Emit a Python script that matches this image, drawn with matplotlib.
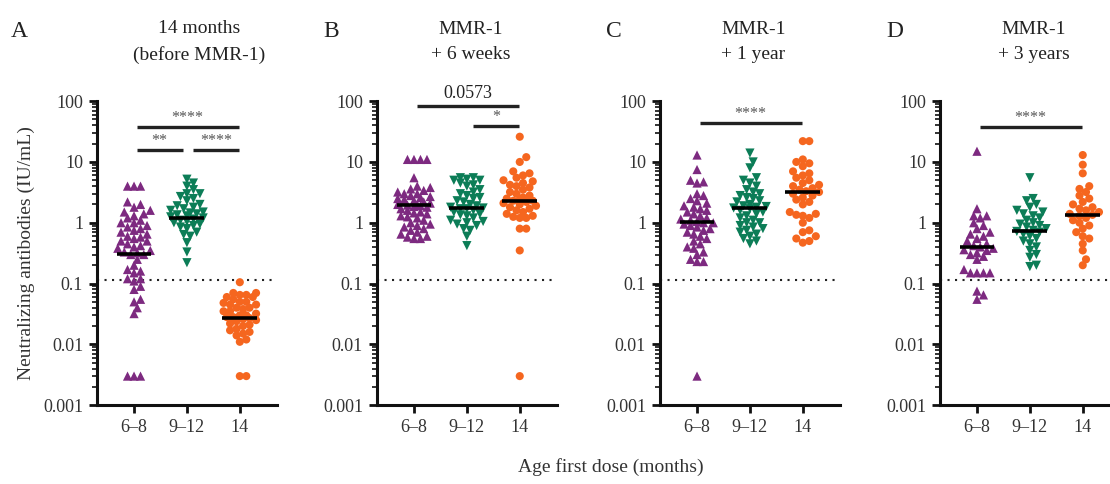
import numpy as np
import matplotlib
matplotlib.use("Agg")
import matplotlib.pyplot as plt
from matplotlib.ticker import LogLocator, NullFormatter

plt.rcParams['font.family'] = ['Liberation Serif', 'DejaVu Serif']
plt.rcParams['text.color'] = '#222222'

# groups / colours / markers
groups = ['6–8', '9–12', '14']
colors = ['#7d2a80', '#0c7d57', '#f5661f']
markers = ['^', 'v', 'o']

panel_letters = ['A', 'B', 'C', 'D']
panel_titles = ['14 months\n(before MMR-1)', 'MMR-1\n+ 6 weeks', 'MMR-1\n+ 1 year', 'MMR-1\n+ 3 years']

# neutralizing antibody titres (IU/mL)
A_6_8 = [4, 4, 4, 2.2, 2.0, 1.8, 1.6, 1.5, 1.4, 1.3, 1.2, 1.1, 1.0, 1.0, 0.9, 0.85, 0.8, 0.75,
         0.7, 0.65, 0.6, 0.58, 0.55, 0.5, 0.5, 0.45, 0.42, 0.4, 0.38, 0.35, 0.33, 0.32, 0.3, 0.3,
         0.25, 0.2, 0.17, 0.16, 0.15, 0.12, 0.12, 0.11, 0.09, 0.08, 0.055, 0.05, 0.04, 0.032,
         0.003, 0.003, 0.003]
A_9_12 = [5.2, 4.5, 4, 3.5, 3.0, 3.0, 2.7, 2.5, 2.3, 2.0, 1.9, 1.8, 1.7, 1.6, 1.5, 1.45, 1.4,
          1.35, 1.3, 1.25, 1.2, 1.15, 1.1, 1.05, 1.0, 0.95, 0.9, 0.85, 0.8, 0.7, 0.64, 0.6,
          0.47, 0.33, 0.22]
A_14 = [0.105, 0.07, 0.07, 0.065, 0.065, 0.06, 0.06, 0.055, 0.05, 0.05, 0.048, 0.045, 0.045,
        0.04, 0.04, 0.038, 0.035, 0.035, 0.032, 0.03, 0.03, 0.028, 0.028, 0.027, 0.026, 0.025,
        0.024, 0.022, 0.021, 0.02, 0.018, 0.017, 0.016, 0.015, 0.014, 0.012, 0.011, 0.003, 0.003]

B_6_8 = [11, 11, 11, 11, 5.5, 4, 3.8, 3.6, 3.4, 3.2, 3.0, 3.0, 2.8, 2.7, 2.6, 2.5, 2.4, 2.3,
         2.2, 2.1, 2.0, 2.0, 1.95, 1.9, 1.85, 1.8, 1.7, 1.6, 1.5, 1.45, 1.4, 1.3, 1.25, 1.2,
         1.1, 1.0, 0.95, 0.9, 0.85, 0.8, 0.75, 0.7, 0.65, 0.6, 0.58, 0.55, 0.55]
B_9_12 = [5.5, 5.5, 5.2, 5, 5, 4.5, 4.2, 4, 3.5, 3.2, 3, 2.8, 2.6, 2.5, 2.3, 2.2, 2.0, 1.9,
          1.8, 1.75, 1.7, 1.7, 1.6, 1.5, 1.4, 1.35, 1.3, 1.2, 1.1, 1.05, 1.0, 0.95, 0.9, 0.8,
          0.75, 0.6, 0.42]
B_14 = [26, 12, 10, 7, 6.5, 6, 5.5, 5, 4.8, 4.5, 4.2, 4, 3.8, 3.5, 3.2, 3, 2.8, 2.6, 2.5,
        2.4, 2.3, 2.3, 2.2, 2.1, 2.0, 1.9, 1.8, 1.7, 1.6, 1.5, 1.4, 1.3, 1.25, 1.2, 1.2, 0.8,
        0.8, 0.35, 0.003]

C_6_8 = [13, 7.5, 5, 4.7, 4.5, 3, 2.8, 2.5, 2.3, 2.1, 1.9, 1.8, 1.7, 1.6, 1.5, 1.4, 1.3, 1.2,
         1.15, 1.1, 1.05, 1.0, 1.0, 0.95, 0.9, 0.85, 0.8, 0.75, 0.7, 0.65, 0.6, 0.55, 0.5,
         0.45, 0.4, 0.38, 0.33, 0.3, 0.25, 0.23, 0.23, 0.003]
C_9_12 = [14, 10, 8, 5.5, 5, 4.5, 4, 3.5, 3.2, 3, 2.8, 2.6, 2.5, 2.3, 2.2, 2.0, 1.9, 1.85,
          1.8, 1.75, 1.7, 1.6, 1.5, 1.4, 1.3, 1.2, 1.1, 1.0, 1.0, 0.9, 0.85, 0.8, 0.75, 0.7,
          0.65, 0.6, 0.55, 0.5, 0.45]
C_14 = [22, 22, 11, 10, 9.5, 8.5, 7, 6.5, 6, 5.5, 5, 4.5, 4.2, 4, 3.7, 3.5, 3.3, 3.2, 3.0,
        2.8, 2.6, 2.4, 2.2, 2.0, 1.5, 1.4, 1.35, 1.3, 1.2, 1.0, 0.75, 0.7, 0.6, 0.55, 0.5, 0.47]

D_6_8 = [15, 1.7, 1.3, 1.3, 1.2, 1.0, 0.9, 0.8, 0.7, 0.65, 0.6, 0.55, 0.5, 0.45, 0.42, 0.4,
         0.38, 0.36, 0.35, 0.32, 0.3, 0.28, 0.25, 0.17, 0.15, 0.15, 0.15, 0.15, 0.075, 0.065,
         0.055]
D_9_12 = [5.5, 2.5, 2.3, 2.0, 1.8, 1.6, 1.5, 1.4, 1.3, 1.2, 1.1, 1.0, 0.95, 0.9, 0.85, 0.8,
          0.75, 0.72, 0.7, 0.65, 0.6, 0.55, 0.5, 0.45, 0.4, 0.35, 0.3, 0.27, 0.2, 0.19]
D_14 = [13, 9, 6.5, 4, 3.6, 3.2, 2.8, 2.5, 2.2, 2.0, 1.8, 1.7, 1.6, 1.5, 1.4, 1.35, 1.3, 1.2,
        1.1, 1.0, 0.9, 0.8, 0.7, 0.6, 0.55, 0.45, 0.35, 0.25, 0.2]

panels = [[A_6_8, A_9_12, A_14], [B_6_8, B_9_12, B_14],
          [C_6_8, C_9_12, C_14], [D_6_8, D_9_12, D_14]]

# median lines
medians = [[0.31, 1.21, 0.027], [1.97, 1.74, 2.32], [1.01, 1.78, 3.26], [0.40, 0.72, 1.34]]

lod = 0.113

# comparisons: (group i, group j, label)
comparisons = [
    [(0, 2, '****'), (0, 1, '**'), (1, 2, '****')],
    [(0, 2, '0.0573'), (1, 2, '*')],
    [(0, 2, '****')],
    [(0, 2, '****')],
]
bar_levels = [[37.5, 15.7, 15.7], [83, 39], [43.7], [37.5]]


def swarm(vals, px_dec, px_unit, d=6.5, step=3.25, maxw=17.0):
    # beeswarm in pixel space, limited width; overlap allowed when crowded
    y = np.log10(np.asarray(vals, float)) * px_dec
    order = np.argsort(y)
    xs = np.zeros(len(y))
    placed = []
    cands = [0.0]
    k = 1
    while k * step <= maxw:
        cands += [k * step, -k * step]
        k += 1
    for i in order:
        best, bestd = 0.0, -1
        for c in cands:
            md = min([np.hypot(c - px, y[i] - py) for px, py in placed] or [99])
            if md >= d:
                best = c
                break
            if md > bestd + 0.8:
                best, bestd = c, md
        xs[i] = best
        placed.append((best, y[i]))
    return xs / px_unit


fig = plt.figure(figsize=(11.1, 4.84), dpi=100)
lefts = [0.0874, 0.3396, 0.5946, 0.8468]
bottom, height, width = 0.163, 0.628, 0.162
xlim = (0.3, 3.7)
px_dec = height * 484 / 5
px_unit = width * 1110 / (xlim[1] - xlim[0])

for p in range(4):
    ax = fig.add_axes([lefts[p], bottom, width, height])
    ax.set_yscale('log')
    ax.set_ylim(0.001, 100)
    ax.set_xlim(*xlim)

    ax.axhline(lod, color='#222222', ls=(0, (1, 2.6)), lw=1.5, zorder=1)

    for g in range(3):
        vals = panels[p][g]
        off = swarm(vals, px_dec, px_unit)
        s = 34 if markers[g] == 'o' else 44
        ax.scatter(g + 1 + off, vals, marker=markers[g], s=s, color=colors[g],
                   edgecolors='none', zorder=3)
        ax.plot([g + 1 - 0.33, g + 1 + 0.33], [medians[p][g]] * 2, color='black',
                lw=2.6, solid_capstyle='butt', zorder=4)

    # significance bars
    for (i, j, lab), yb in zip(comparisons[p], bar_levels[p]):
        x1 = i + 1 + (0.05 if i == 0 else 0.12)
        x2 = j + 1 - (0.02 if j == 2 else 0.08)
        ax.plot([x1, x2], [yb, yb], color='#222222', lw=2.4, solid_capstyle='butt',
                clip_on=False)
        if lab.startswith('*'):
            ax.text((x1 + x2) / 2, yb * 1.22, lab, ha='center', va='baseline', fontsize=11.5,
                    color='#555555')
        else:
            ax.text((x1 + x2) / 2, yb * 1.15, lab, ha='center', va='bottom', fontsize=13)

    for sp in ['top', 'right']:
        ax.spines[sp].set_visible(False)
    for sp in ['left', 'bottom']:
        ax.spines[sp].set_linewidth(2.2)
        ax.spines[sp].set_color('#111111')

    ax.set_yticks([0.001, 0.01, 0.1, 1, 10, 100])
    ax.set_yticklabels(['0.001', '0.01', '0.1', '1', '10', '100'])
    ax.yaxis.set_minor_locator(LogLocator(base=10, subs=np.arange(2, 10)))
    ax.yaxis.set_minor_formatter(NullFormatter())
    ax.set_xticks([1, 2, 3])
    ax.set_xticklabels(groups)
    ax.tick_params(axis='both', which='major', length=6, width=2, labelsize=13,
                   colors='#111111', labelcolor='#333333', pad=4)
    ax.tick_params(axis='y', which='minor', length=3.5, width=1.2, colors='#111111')

    ax.text(-0.48 if p == 0 else -0.3, 1.23, panel_letters[p], transform=ax.transAxes,
            fontsize=17, ha='left', va='center')
    ax.text(0.57 if p == 0 else 0.52, 1.195, panel_titles[p], transform=ax.transAxes,
            ha='center', va='center', fontsize=14, linespacing=1.6)

    if p == 0:
        ax.set_ylabel('Neutralizing antibodies (IU/mL)', fontsize=14, labelpad=6,
                      color='#333333')

fig.text(0.55, 0.035, 'Age first dose (months)', ha='center', va='center', fontsize=14,
         color='#333333')

fig.savefig('out.png', dpi=100)
